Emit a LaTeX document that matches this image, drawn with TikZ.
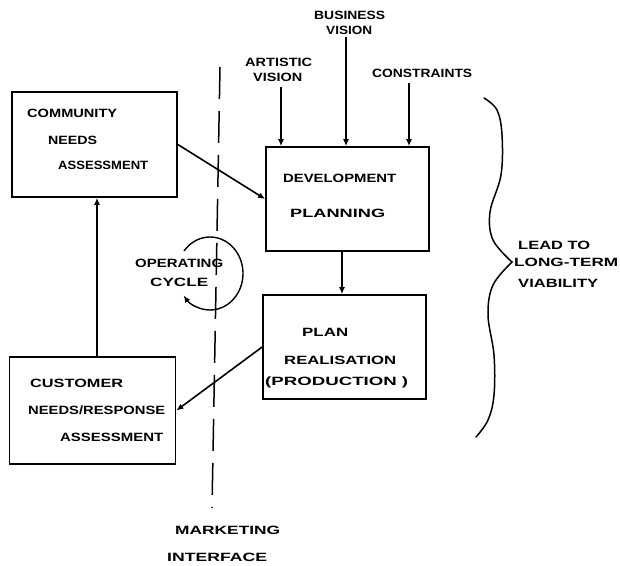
\documentclass[tikz,border=0pt]{standalone}
\usepackage{fontspec}
\newfontfamily\hand{Liberation Sans}
\usetikzlibrary{arrows.meta}
% lettering stretched to a given width, natural height kept
\newcommand\fitw[2]{\resizebox{#1}{\height}{#2}}
\begin{document}
\begin{tikzpicture}[x=1pt,y=-1pt,
  box/.style={draw,line width=1.7pt,inner sep=0,minimum width=#1},
  lbl/.style={anchor=west,inner sep=0,font=\hand\fontsize{12}{13}\selectfont\bfseries},
  arr/.style={line width=1.6pt,-{Latex[length=7pt,width=6pt]}},
  thin/.style={line width=1.5pt}]
\useasboundingbox (0,0) rectangle (620,565);

% boxes
\node[box=165pt,minimum height=105pt] (comm) at (94.5,144.5) {};
\node[box=163pt,minimum height=104pt] (dev)  at (347.5,199) {};
\node[box=163pt,minimum height=104pt] (plan) at (344.5,347) {};
\node[box=166pt,minimum height=107pt] (cust) at (92.5,410.5) {};

% box texts
\node[lbl] (t1) at (27,113) {\fitw{90pt}{COMMUNITY}};
\node[lbl] (t2) at (48,140) {\fitw{49pt}{NEEDS}};
\node[lbl] (t3) at (58,165) {\fitw{90pt}{ASSESSMENT}};
\node[lbl] (t4) at (283,178) {\fitw{113pt}{DEVELOPMENT}};
\node[lbl] (t5) at (290,213) {\fitw{95pt}{PLANNING}};
\node[lbl] (t6) at (302,332) {\fitw{46pt}{PLAN}};
\node[lbl] (t7) at (284,360) {\fitw{112pt}{REALISATION}};
\node[lbl] (t8) at (265,382) {\fitw{143pt}{(PRODUCTION )}};
\node[lbl] (t9) at (30,383) {\fitw{93pt}{CUSTOMER}};
\node[lbl] (t10) at (28,410) {\fitw{137pt}{NEEDS/RESPONSE}};
\node[lbl] (t11) at (60,437) {\fitw{103pt}{ASSESSMENT}};

% inputs to planning
\node[lbl] (bus1) at (314,15) {\fitw{71pt}{BUSINESS}};
\node[lbl] (bus2) at (326,30) {\fitw{46pt}{VISION}};
\node[lbl] (art1) at (245,62) {\fitw{67pt}{ARTISTIC}};
\node[lbl] (art2) at (253,77) {\fitw{49pt}{VISION}};
\node[lbl] (con) at (372,73) {\fitw{100pt}{CONSTRAINTS}};
\coordinate (artT) at (281,87);
\coordinate (busT) at (346,37);
\coordinate (conT) at (409,83);
\draw[arr] (artT) -- (artT |- dev.north);
\draw[arr] (busT) -- (busT |- dev.north);
\draw[arr] (conT) -- (conT |- dev.north);

% flow between boxes
\coordinate (dp) at (342,0);
\coordinate (cc) at (97,0);
\draw[arr] (dp |- dev.south) -- (dp |- plan.north);
\draw[arr] (cc |- cust.north) -- (cc |- comm.south);
\draw[arr] (comm.east) -- (dev.west);
\draw[arr] (plan.west) -- (cust.east);

% marketing interface
\coordinate (mTop) at (220,67);
\coordinate (mBot) at (212,508);
\draw[thin,dash pattern=on 32pt off 12pt] (mTop) -- (mBot);
\node[lbl] (mk1) at (175,530) {\fitw{105pt}{MARKETING}};
\node[lbl] (mk2) at (167,557) {\fitw{100pt}{INTERFACE}};

% operating cycle
\coordinate (cyc) at (210,273.5);
\draw[arr,line width=1.4pt] ([shift={(218:33 and 36.5)}]cyc)
  arc[start angle=218,end angle=503,x radius=33,y radius=36.5];
\node[lbl] (op1) at (135,263) {\fitw{88pt}{OPERATING}};
\node[lbl] (op2) at (150,282) {\fitw{58pt}{CYCLE}};

% brace
\draw[thin,line cap=round] plot[smooth,tension=0.6] coordinates
  {(484,98) (497,110) (502,135) (501,175) (490,212) (493,240) (512,262)};
\draw[thin,line cap=round] plot[smooth,tension=0.6] coordinates
  {(512,262) (493,285) (488,315) (494,355) (494,395) (488,420) (476,437)};
\node[lbl] (lv1) at (518,245) {\fitw{72pt}{LEAD TO}};
\node[lbl] (lv2) at (514,262) {\fitw{104pt}{LONG-TERM}};
\node[lbl] (lv3) at (518,283) {\fitw{80pt}{VIABILITY}};
\end{tikzpicture}
\end{document}
